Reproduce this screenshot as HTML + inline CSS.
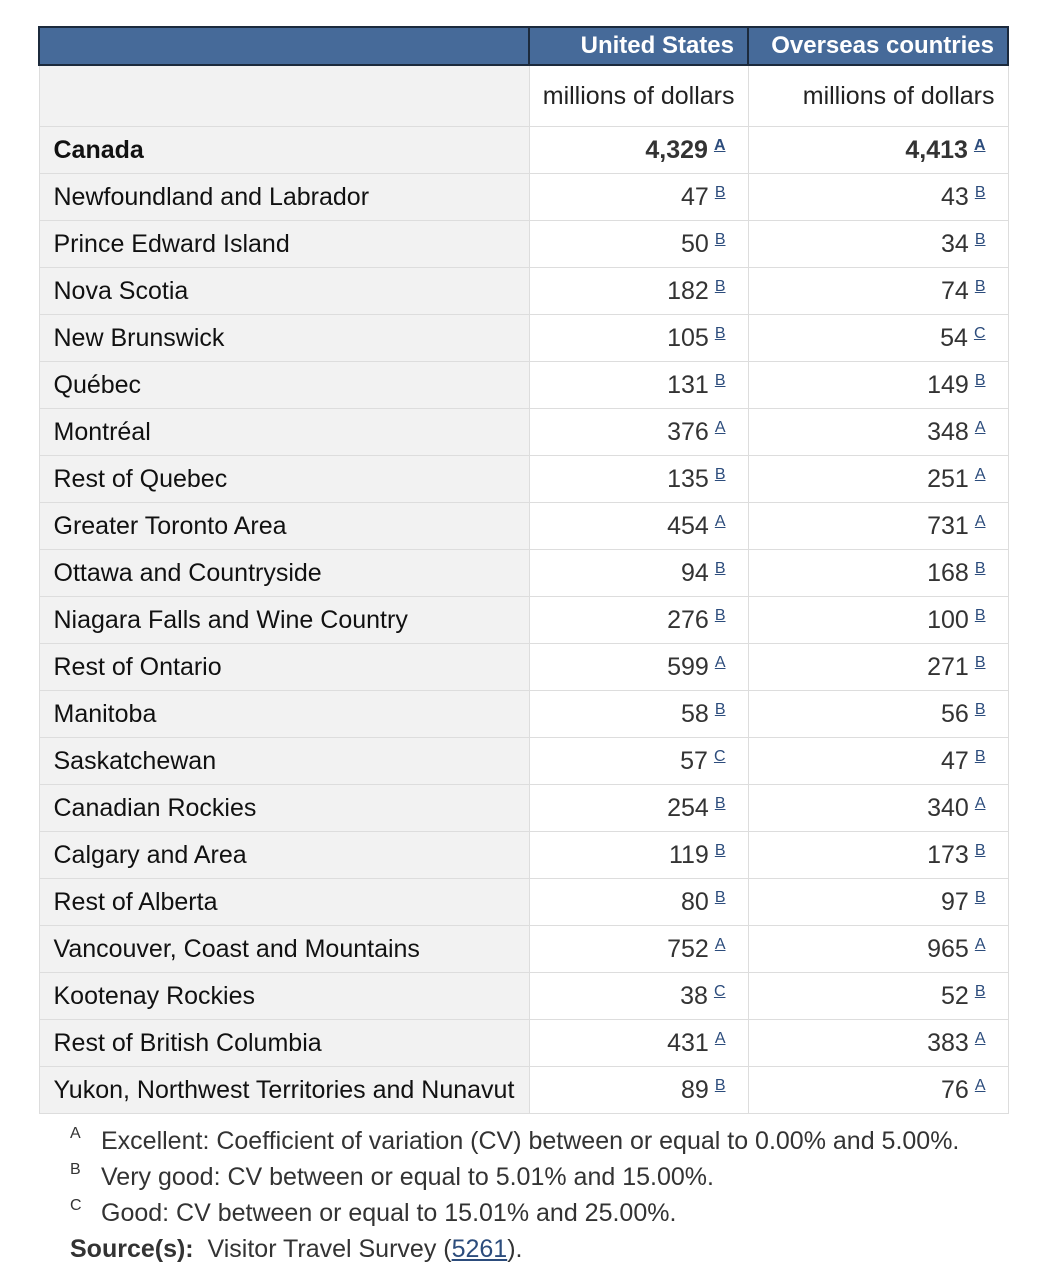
<!DOCTYPE html>
<html><head><meta charset="utf-8"><style>
body{margin:0;background:#fff;font-family:Arial,"Liberation Sans",Helvetica,sans-serif;color:#222;}
table{position:absolute;left:38px;top:26px;border-collapse:collapse;font-size:25px;font-family:Arial,"Liberation Sans",Helvetica,sans-serif;}
td,th{padding:0;border:1px solid #ddd;}
tr.h th{background:#466a99;color:#fff;font-weight:bold;height:36px;border:2px solid #1c2a3c;text-align:right;padding-right:13px;font-size:24px;}
tr.u td{height:60px;background:#fff;text-align:right;padding-right:13px;}
tr.u td.l{background:#f2f2f2;}
tr.r td{height:46px;background:#fff;text-align:right;padding-right:22px;color:#333;}
tr.r td.l{background:#f2f2f2;text-align:left;padding-left:14px;padding-right:0;color:#111;}
sup{font-size:16px;color:#2c4c7c;text-decoration:underline;vertical-align:8px;margin-left:6px;}
.b td{font-weight:bold;}
.fn{position:absolute;left:70px;font-size:25px;color:#333;}
.fn span{position:absolute;left:0;top:-2px;font-size:16px;}
.fn i{font-style:normal;position:absolute;left:31px;white-space:nowrap;}
</style></head><body>
<table>
<tr class="h"><th style="width:488px;padding:0"></th><th style="width:204px">United States</th><th style="width:245px">Overseas countries</th></tr>
<tr class="u"><td class="l"></td><td>millions of dollars</td><td>millions of dollars</td></tr>
<tr class="r b"><td class="l">Canada</td><td>4,329<sup>A</sup></td><td>4,413<sup>A</sup></td></tr>
<tr class="r"><td class="l">Newfoundland and Labrador</td><td>47<sup>B</sup></td><td>43<sup>B</sup></td></tr>
<tr class="r"><td class="l">Prince Edward Island</td><td>50<sup>B</sup></td><td>34<sup>B</sup></td></tr>
<tr class="r"><td class="l">Nova Scotia</td><td>182<sup>B</sup></td><td>74<sup>B</sup></td></tr>
<tr class="r"><td class="l">New Brunswick</td><td>105<sup>B</sup></td><td>54<sup>C</sup></td></tr>
<tr class="r"><td class="l">Québec</td><td>131<sup>B</sup></td><td>149<sup>B</sup></td></tr>
<tr class="r"><td class="l">Montréal</td><td>376<sup>A</sup></td><td>348<sup>A</sup></td></tr>
<tr class="r"><td class="l">Rest of Quebec</td><td>135<sup>B</sup></td><td>251<sup>A</sup></td></tr>
<tr class="r"><td class="l">Greater Toronto Area</td><td>454<sup>A</sup></td><td>731<sup>A</sup></td></tr>
<tr class="r"><td class="l">Ottawa and Countryside</td><td>94<sup>B</sup></td><td>168<sup>B</sup></td></tr>
<tr class="r"><td class="l">Niagara Falls and Wine Country</td><td>276<sup>B</sup></td><td>100<sup>B</sup></td></tr>
<tr class="r"><td class="l">Rest of Ontario</td><td>599<sup>A</sup></td><td>271<sup>B</sup></td></tr>
<tr class="r"><td class="l">Manitoba</td><td>58<sup>B</sup></td><td>56<sup>B</sup></td></tr>
<tr class="r"><td class="l">Saskatchewan</td><td>57<sup>C</sup></td><td>47<sup>B</sup></td></tr>
<tr class="r"><td class="l">Canadian Rockies</td><td>254<sup>B</sup></td><td>340<sup>A</sup></td></tr>
<tr class="r"><td class="l">Calgary and Area</td><td>119<sup>B</sup></td><td>173<sup>B</sup></td></tr>
<tr class="r"><td class="l">Rest of Alberta</td><td>80<sup>B</sup></td><td>97<sup>B</sup></td></tr>
<tr class="r"><td class="l">Vancouver, Coast and Mountains</td><td>752<sup>A</sup></td><td>965<sup>A</sup></td></tr>
<tr class="r"><td class="l">Kootenay Rockies</td><td>38<sup>C</sup></td><td>52<sup>B</sup></td></tr>
<tr class="r"><td class="l">Rest of British Columbia</td><td>431<sup>A</sup></td><td>383<sup>A</sup></td></tr>
<tr class="r"><td class="l">Yukon, Northwest Territories and Nunavut</td><td>89<sup>B</sup></td><td>76<sup>A</sup></td></tr>
</table>
<div class="fn" style="top:1127px"><span>A</span><i>Excellent: Coefficient of variation (CV) between or equal to 0.00% and 5.00%.</i></div>
<div class="fn" style="top:1163px"><span>B</span><i>Very good: CV between or equal to 5.01% and 15.00%.</i></div>
<div class="fn" style="top:1199px"><span>C</span><i>Good: CV between or equal to 15.01% and 25.00%.</i></div>
<div class="fn" style="top:1235px;white-space:nowrap"><b>Source(s):</b>&nbsp;&nbsp;Visitor Travel Survey (<u style="color:#2c4c7c">5261</u>).</div>
</body></html>
